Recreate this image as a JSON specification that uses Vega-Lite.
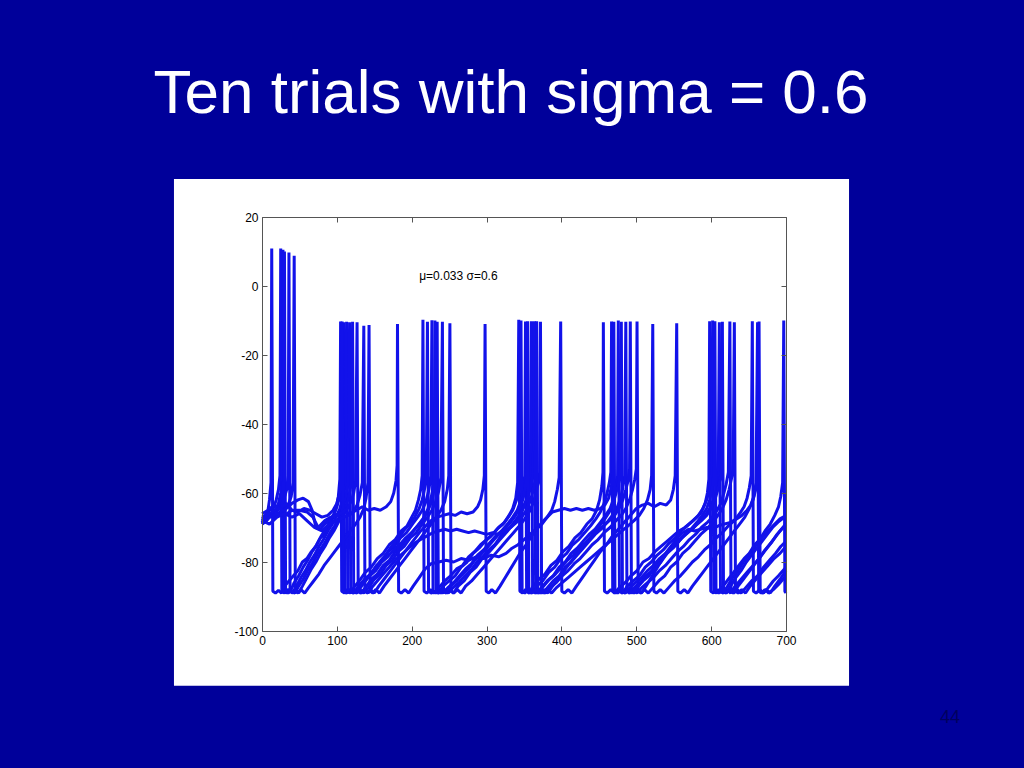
{
"$schema": "https://vega.github.io/schema/vega-lite/v6.json",
"width": 524,
"height": 414,
"autosize": {"type": "none"},
"padding": {"left": 262, "top": 217, "right": 238, "bottom": 137},
"background": "#00009A",
"config": {"view": {"stroke": null}, "font": "Liberation Sans"},
"title": {"text": "Ten trials with sigma = 0.6", "fontSize": 62, "font": "Liberation Sans", "fontWeight": "normal", "color": "#FFFFFF", "anchor": "middle", "offset": 53, "dx": -13},
"datasets": {
"traces": [
{"k":1,"t":0,"v":-68.5},{"k":1,"t":4,"v":-67},{"k":1,"t":8,"v":-65},{"k":1,"t":10,"v":-62},{"k":1,"t":12,"v":-57},{"k":1,"t":13,"v":10.9},
{"k":1,"t":14.5,"v":-88.5},{"k":1,"t":18,"v":-89},{"k":1,"t":22,"v":-88.2},{"k":1,"t":26,"v":-89},{"k":1,"t":30,"v":-87},{"k":1,"t":36,"v":-85.5},{"k":1,"t":42,"v":-84},{"k":1,"t":48,"v":-82.5},{"k":1,"t":54,"v":-80},{"k":1,"t":60,"v":-79},{"k":1,"t":66,"v":-77},{"k":1,"t":72,"v":-75.5},{"k":1,"t":78,"v":-73},{"k":1,"t":84,"v":-72},{"k":1,"t":90,"v":-69.5},{"k":1,"t":95,"v":-67},{"k":1,"t":99,"v":-64.5},{"k":1,"t":102,"v":-61},{"k":1,"t":104,"v":-56},{"k":1,"t":105,"v":-10.3},
{"k":1,"t":106.5,"v":-88.5},{"k":1,"t":110,"v":-89},{"k":1,"t":114,"v":-88},{"k":1,"t":118,"v":-89},{"k":1,"t":124,"v":-87},{"k":1,"t":130,"v":-85.5},{"k":1,"t":138,"v":-83},{"k":1,"t":146,"v":-81.5},{"k":1,"t":154,"v":-79},{"k":1,"t":162,"v":-77.5},{"k":1,"t":170,"v":-75},{"k":1,"t":178,"v":-73.5},{"k":1,"t":186,"v":-71},{"k":1,"t":194,"v":-69.5},{"k":1,"t":200,"v":-67},{"k":1,"t":205,"v":-65},{"k":1,"t":209,"v":-62},{"k":1,"t":212,"v":-59},{"k":1,"t":214,"v":-55},{"k":1,"t":215,"v":-9.8},
{"k":1,"t":216.5,"v":-88.5},{"k":1,"t":220,"v":-89},{"k":1,"t":225,"v":-88},{"k":1,"t":230,"v":-89},{"k":1,"t":236,"v":-87.5},{"k":1,"t":244,"v":-85.5},{"k":1,"t":252,"v":-84},{"k":1,"t":260,"v":-82},{"k":1,"t":268,"v":-81},{"k":1,"t":276,"v":-78.5},{"k":1,"t":284,"v":-77},{"k":1,"t":292,"v":-75},{"k":1,"t":300,"v":-73.5},{"k":1,"t":308,"v":-72},{"k":1,"t":316,"v":-70},{"k":1,"t":324,"v":-68.5},{"k":1,"t":330,"v":-66.5},{"k":1,"t":335,"v":-64.5},{"k":1,"t":339,"v":-61.5},{"k":1,"t":341.5,"v":-57},{"k":1,"t":343,"v":-9.8},
{"k":1,"t":344.5,"v":-88.5},{"k":1,"t":348,"v":-89},{"k":1,"t":352,"v":-88},{"k":1,"t":357,"v":-89},{"k":1,"t":362,"v":-87},{"k":1,"t":370,"v":-85},{"k":1,"t":378,"v":-83.5},{"k":1,"t":386,"v":-81},{"k":1,"t":394,"v":-79.5},{"k":1,"t":402,"v":-77},{"k":1,"t":410,"v":-75.5},{"k":1,"t":418,"v":-73},{"k":1,"t":426,"v":-71.5},{"k":1,"t":434,"v":-69},{"k":1,"t":441,"v":-67.5},{"k":1,"t":447,"v":-65},{"k":1,"t":451,"v":-62},{"k":1,"t":454,"v":-58},{"k":1,"t":455.5,"v":-54},{"k":1,"t":456,"v":-10.5},
{"k":1,"t":457.5,"v":-88.5},{"k":1,"t":461,"v":-89},{"k":1,"t":466,"v":-88},{"k":1,"t":471,"v":-89},{"k":1,"t":477,"v":-87.5},{"k":1,"t":485,"v":-86},{"k":1,"t":493,"v":-84},{"k":1,"t":501,"v":-82.5},{"k":1,"t":509,"v":-80},{"k":1,"t":517,"v":-79},{"k":1,"t":525,"v":-77},{"k":1,"t":533,"v":-75.5},{"k":1,"t":541,"v":-74},{"k":1,"t":549,"v":-72.5},{"k":1,"t":557,"v":-71},{"k":1,"t":565,"v":-70},{"k":1,"t":573,"v":-68.5},{"k":1,"t":581,"v":-67},{"k":1,"t":587,"v":-65.5},{"k":1,"t":592,"v":-63},{"k":1,"t":595,"v":-60},{"k":1,"t":597,"v":-56},{"k":1,"t":598,"v":-10.2},
{"k":1,"t":599.5,"v":-88.5},{"k":1,"t":603,"v":-89},{"k":1,"t":607,"v":-88},{"k":1,"t":611,"v":-89},{"k":1,"t":616,"v":-87},{"k":1,"t":623,"v":-85},{"k":1,"t":630,"v":-83},{"k":1,"t":637,"v":-81},{"k":1,"t":644,"v":-79},{"k":1,"t":651,"v":-77.5},{"k":1,"t":658,"v":-75},{"k":1,"t":665,"v":-73.5},{"k":1,"t":672,"v":-71},{"k":1,"t":679,"v":-69},{"k":1,"t":685,"v":-66.5},{"k":1,"t":690,"v":-64},{"k":1,"t":693,"v":-61},{"k":1,"t":695.5,"v":-57},{"k":1,"t":697,"v":-10},{"k":1,"t":698.5,"v":-88.5},{"k":1,"t":700,"v":-89},

{"k":2,"t":0,"v":-67},{"k":2,"t":5,"v":-66.5},{"k":2,"t":10,"v":-65},{"k":2,"t":15,"v":-64.5},{"k":2,"t":19,"v":-62},{"k":2,"t":22,"v":-59},{"k":2,"t":24,"v":-55},{"k":2,"t":25,"v":10.9},
{"k":2,"t":26.5,"v":-88.5},{"k":2,"t":30,"v":-89},{"k":2,"t":34,"v":-88},{"k":2,"t":38,"v":-88.5},{"k":2,"t":43,"v":-86},{"k":2,"t":49,"v":-84},{"k":2,"t":55,"v":-81.5},{"k":2,"t":61,"v":-79.5},{"k":2,"t":67,"v":-77},{"k":2,"t":73,"v":-75},{"k":2,"t":79,"v":-72.5},{"k":2,"t":85,"v":-70.5},{"k":2,"t":91,"v":-68},{"k":2,"t":96,"v":-66},{"k":2,"t":100,"v":-64},{"k":2,"t":104,"v":-61},{"k":2,"t":107,"v":-57},{"k":2,"t":109,"v":-10.5},
{"k":2,"t":110.5,"v":-88.5},{"k":2,"t":114,"v":-89},{"k":2,"t":118,"v":-88},{"k":2,"t":123,"v":-89},{"k":2,"t":129,"v":-87},{"k":2,"t":137,"v":-85},{"k":2,"t":145,"v":-83.5},{"k":2,"t":153,"v":-81},{"k":2,"t":161,"v":-79.5},{"k":2,"t":169,"v":-77},{"k":2,"t":177,"v":-75.5},{"k":2,"t":185,"v":-73},{"k":2,"t":193,"v":-71.5},{"k":2,"t":201,"v":-69},{"k":2,"t":208,"v":-67},{"k":2,"t":214,"v":-65},{"k":2,"t":219,"v":-62.5},{"k":2,"t":223,"v":-59},{"k":2,"t":225.5,"v":-55},{"k":2,"t":227,"v":-9.9},
{"k":2,"t":228.5,"v":-88.5},{"k":2,"t":232,"v":-89},{"k":2,"t":237,"v":-88},{"k":2,"t":242,"v":-89},{"k":2,"t":248,"v":-87.5},{"k":2,"t":256,"v":-86},{"k":2,"t":264,"v":-84},{"k":2,"t":272,"v":-82},{"k":2,"t":280,"v":-80.5},{"k":2,"t":288,"v":-78},{"k":2,"t":296,"v":-76.5},{"k":2,"t":304,"v":-74.5},{"k":2,"t":312,"v":-72.5},{"k":2,"t":320,"v":-71},{"k":2,"t":328,"v":-69},{"k":2,"t":335,"v":-67},{"k":2,"t":341,"v":-65},{"k":2,"t":346,"v":-62},{"k":2,"t":349,"v":-59},{"k":2,"t":351,"v":-55},{"k":2,"t":352,"v":-10.3},
{"k":2,"t":353.5,"v":-88.5},{"k":2,"t":357,"v":-89},{"k":2,"t":362,"v":-88},{"k":2,"t":367,"v":-89},{"k":2,"t":373,"v":-87.5},{"k":2,"t":381,"v":-85.5},{"k":2,"t":389,"v":-84},{"k":2,"t":397,"v":-81.5},{"k":2,"t":405,"v":-80},{"k":2,"t":413,"v":-77.5},{"k":2,"t":421,"v":-76},{"k":2,"t":429,"v":-74},{"k":2,"t":437,"v":-72},{"k":2,"t":445,"v":-70.5},{"k":2,"t":452,"v":-68.5},{"k":2,"t":459,"v":-66.5},{"k":2,"t":465,"v":-64.5},{"k":2,"t":470,"v":-61.5},{"k":2,"t":473,"v":-58},{"k":2,"t":475,"v":-55},{"k":2,"t":476,"v":-10},
{"k":2,"t":477.5,"v":-88.5},{"k":2,"t":481,"v":-89},{"k":2,"t":486,"v":-88},{"k":2,"t":491,"v":-89},{"k":2,"t":497,"v":-87.5},{"k":2,"t":505,"v":-86},{"k":2,"t":513,"v":-84},{"k":2,"t":521,"v":-82.5},{"k":2,"t":529,"v":-80},{"k":2,"t":537,"v":-78.5},{"k":2,"t":545,"v":-76.5},{"k":2,"t":553,"v":-75},{"k":2,"t":561,"v":-73},{"k":2,"t":569,"v":-71.5},{"k":2,"t":577,"v":-70},{"k":2,"t":585,"v":-68},{"k":2,"t":592,"v":-66.5},{"k":2,"t":598,"v":-64.5},{"k":2,"t":603,"v":-62},{"k":2,"t":607,"v":-59},{"k":2,"t":609.5,"v":-55},{"k":2,"t":611,"v":-10.5},
{"k":2,"t":612.5,"v":-88.5},{"k":2,"t":616,"v":-89},{"k":2,"t":621,"v":-88},{"k":2,"t":626,"v":-89},{"k":2,"t":632,"v":-87},{"k":2,"t":640,"v":-85},{"k":2,"t":648,"v":-83},{"k":2,"t":656,"v":-81},{"k":2,"t":664,"v":-79},{"k":2,"t":672,"v":-76.5},{"k":2,"t":680,"v":-74.5},{"k":2,"t":688,"v":-72},{"k":2,"t":694,"v":-70.5},{"k":2,"t":700,"v":-69},

{"k":3,"t":0,"v":-69},{"k":3,"t":6,"v":-68},{"k":3,"t":12,"v":-66},{"k":3,"t":18,"v":-65},{"k":3,"t":22,"v":-63},{"k":3,"t":25,"v":-60},{"k":3,"t":27,"v":-56},{"k":3,"t":28,"v":10.5},
{"k":3,"t":29.5,"v":-88.5},{"k":3,"t":33,"v":-89},{"k":3,"t":37,"v":-88},{"k":3,"t":41,"v":-89},{"k":3,"t":46,"v":-87},{"k":3,"t":52,"v":-84.5},{"k":3,"t":58,"v":-82.5},{"k":3,"t":64,"v":-80},{"k":3,"t":70,"v":-78},{"k":3,"t":76,"v":-75.5},{"k":3,"t":82,"v":-73.5},{"k":3,"t":88,"v":-71},{"k":3,"t":94,"v":-69},{"k":3,"t":99,"v":-67},{"k":3,"t":104,"v":-64.5},{"k":3,"t":108,"v":-61.5},{"k":3,"t":111,"v":-57.5},{"k":3,"t":113,"v":-10.4},
{"k":3,"t":114.5,"v":-88.5},{"k":3,"t":118,"v":-89},{"k":3,"t":122,"v":-88},{"k":3,"t":127,"v":-89},{"k":3,"t":133,"v":-87},{"k":3,"t":141,"v":-84.5},{"k":3,"t":149,"v":-82.5},{"k":3,"t":157,"v":-80},{"k":3,"t":165,"v":-78},{"k":3,"t":173,"v":-75.5},{"k":3,"t":181,"v":-73.5},{"k":3,"t":189,"v":-71},{"k":3,"t":197,"v":-69},{"k":3,"t":204,"v":-67},{"k":3,"t":210,"v":-64.5},{"k":3,"t":214,"v":-62},{"k":3,"t":217,"v":-59},{"k":3,"t":219.5,"v":-55},{"k":3,"t":221,"v":-10.4},
{"k":3,"t":222.5,"v":-88.5},{"k":3,"t":226,"v":-89},{"k":3,"t":231,"v":-88.5},{"k":3,"t":236,"v":-89},{"k":3,"t":242,"v":-87},{"k":3,"t":250,"v":-85.5},{"k":3,"t":258,"v":-84},{"k":3,"t":266,"v":-81.5},{"k":3,"t":274,"v":-80},{"k":3,"t":282,"v":-77.5},{"k":3,"t":290,"v":-76},{"k":3,"t":298,"v":-74},{"k":3,"t":306,"v":-72.5},{"k":3,"t":314,"v":-70.5},{"k":3,"t":322,"v":-69},{"k":3,"t":329,"v":-67},{"k":3,"t":335,"v":-65},{"k":3,"t":340,"v":-62},{"k":3,"t":343,"v":-59},{"k":3,"t":345,"v":-55},{"k":3,"t":346,"v":-10},
{"k":3,"t":347.5,"v":-88.5},{"k":3,"t":351,"v":-89},{"k":3,"t":356,"v":-88},{"k":3,"t":361,"v":-89},{"k":3,"t":367,"v":-87},{"k":3,"t":375,"v":-85.5},{"k":3,"t":383,"v":-83},{"k":3,"t":391,"v":-81.5},{"k":3,"t":399,"v":-79},{"k":3,"t":407,"v":-77.5},{"k":3,"t":415,"v":-75},{"k":3,"t":423,"v":-73.5},{"k":3,"t":431,"v":-71.5},{"k":3,"t":439,"v":-69.5},{"k":3,"t":446,"v":-67.5},{"k":3,"t":452,"v":-65.5},{"k":3,"t":457,"v":-63},{"k":3,"t":461,"v":-60},{"k":3,"t":464,"v":-57},{"k":3,"t":466,"v":-54},{"k":3,"t":467,"v":-10.3},
{"k":3,"t":468.5,"v":-88.5},{"k":3,"t":472,"v":-89},{"k":3,"t":477,"v":-88},{"k":3,"t":482,"v":-89},{"k":3,"t":488,"v":-87},{"k":3,"t":496,"v":-85.5},{"k":3,"t":504,"v":-84},{"k":3,"t":512,"v":-81.5},{"k":3,"t":520,"v":-80},{"k":3,"t":528,"v":-78},{"k":3,"t":536,"v":-76.5},{"k":3,"t":544,"v":-74.5},{"k":3,"t":552,"v":-73},{"k":3,"t":560,"v":-71},{"k":3,"t":568,"v":-69.5},{"k":3,"t":576,"v":-68},{"k":3,"t":583,"v":-66.5},{"k":3,"t":589,"v":-64.5},{"k":3,"t":594,"v":-62},{"k":3,"t":598,"v":-59},{"k":3,"t":600.5,"v":-55},{"k":3,"t":602,"v":-10},
{"k":3,"t":603.5,"v":-88.5},{"k":3,"t":607,"v":-89},{"k":3,"t":611,"v":-88},{"k":3,"t":616,"v":-89},{"k":3,"t":622,"v":-87},{"k":3,"t":629,"v":-84.5},{"k":3,"t":636,"v":-82.5},{"k":3,"t":643,"v":-80},{"k":3,"t":650,"v":-78},{"k":3,"t":657,"v":-76},{"k":3,"t":664,"v":-74},{"k":3,"t":671,"v":-72},{"k":3,"t":678,"v":-70.5},{"k":3,"t":685,"v":-69},{"k":3,"t":692,"v":-67.5},{"k":3,"t":700,"v":-66.5},

{"k":4,"t":0,"v":-68},{"k":4,"t":6,"v":-67.5},{"k":4,"t":12,"v":-66},{"k":4,"t":18,"v":-66.5},{"k":4,"t":23,"v":-64},{"k":4,"t":27,"v":-61},{"k":4,"t":29,"v":-56},{"k":4,"t":30,"v":10},
{"k":4,"t":31.5,"v":-88.5},{"k":4,"t":35,"v":-89},{"k":4,"t":39,"v":-88.5},{"k":4,"t":44,"v":-89},{"k":4,"t":49,"v":-87},{"k":4,"t":55,"v":-85},{"k":4,"t":61,"v":-82.5},{"k":4,"t":67,"v":-80.5},{"k":4,"t":73,"v":-78},{"k":4,"t":79,"v":-76},{"k":4,"t":85,"v":-74},{"k":4,"t":91,"v":-71.5},{"k":4,"t":97,"v":-69.5},{"k":4,"t":103,"v":-67},{"k":4,"t":108,"v":-64.5},{"k":4,"t":112,"v":-61},{"k":4,"t":115,"v":-57},{"k":4,"t":117,"v":-10.5},
{"k":4,"t":118.5,"v":-88.5},{"k":4,"t":122,"v":-89},{"k":4,"t":127,"v":-88},{"k":4,"t":132,"v":-89},{"k":4,"t":138,"v":-87.5},{"k":4,"t":146,"v":-85},{"k":4,"t":154,"v":-83.5},{"k":4,"t":162,"v":-81},{"k":4,"t":170,"v":-79.5},{"k":4,"t":178,"v":-77},{"k":4,"t":186,"v":-75.5},{"k":4,"t":194,"v":-73},{"k":4,"t":202,"v":-71},{"k":4,"t":210,"v":-69},{"k":4,"t":217,"v":-67},{"k":4,"t":223,"v":-64.5},{"k":4,"t":227,"v":-62},{"k":4,"t":230,"v":-59},{"k":4,"t":232.5,"v":-55},{"k":4,"t":234,"v":-10.4},
{"k":4,"t":235.5,"v":-88.5},{"k":4,"t":239,"v":-89},{"k":4,"t":244,"v":-88},{"k":4,"t":249,"v":-89},{"k":4,"t":255,"v":-87.5},{"k":4,"t":263,"v":-86},{"k":4,"t":271,"v":-84},{"k":4,"t":279,"v":-82.5},{"k":4,"t":287,"v":-80},{"k":4,"t":295,"v":-78.5},{"k":4,"t":303,"v":-76.5},{"k":4,"t":311,"v":-75},{"k":4,"t":319,"v":-72.5},{"k":4,"t":327,"v":-71},{"k":4,"t":335,"v":-69},{"k":4,"t":342,"v":-67},{"k":4,"t":348,"v":-64.5},{"k":4,"t":353,"v":-62},{"k":4,"t":356,"v":-59},{"k":4,"t":358.5,"v":-55},{"k":4,"t":360,"v":-10.2},
{"k":4,"t":361.5,"v":-88.5},{"k":4,"t":365,"v":-89},{"k":4,"t":370,"v":-88},{"k":4,"t":375,"v":-89},{"k":4,"t":381,"v":-87.5},{"k":4,"t":389,"v":-85.5},{"k":4,"t":397,"v":-84},{"k":4,"t":405,"v":-81.5},{"k":4,"t":413,"v":-80},{"k":4,"t":421,"v":-78},{"k":4,"t":429,"v":-76},{"k":4,"t":437,"v":-74},{"k":4,"t":445,"v":-72},{"k":4,"t":453,"v":-70.5},{"k":4,"t":461,"v":-68.5},{"k":4,"t":468,"v":-66.5},{"k":4,"t":474,"v":-64.5},{"k":4,"t":479,"v":-61.5},{"k":4,"t":482,"v":-58.5},{"k":4,"t":484.5,"v":-55},{"k":4,"t":486,"v":-10.4},
{"k":4,"t":487.5,"v":-88.5},{"k":4,"t":491,"v":-89},{"k":4,"t":496,"v":-88},{"k":4,"t":501,"v":-89},{"k":4,"t":507,"v":-87.5},{"k":4,"t":515,"v":-86},{"k":4,"t":523,"v":-84.5},{"k":4,"t":531,"v":-82.5},{"k":4,"t":539,"v":-81},{"k":4,"t":547,"v":-79},{"k":4,"t":555,"v":-77},{"k":4,"t":563,"v":-75.5},{"k":4,"t":571,"v":-73.5},{"k":4,"t":579,"v":-72},{"k":4,"t":587,"v":-70},{"k":4,"t":595,"v":-68.5},{"k":4,"t":602,"v":-67},{"k":4,"t":608,"v":-65},{"k":4,"t":613,"v":-63},{"k":4,"t":617,"v":-60},{"k":4,"t":620,"v":-57.5},{"k":4,"t":623,"v":-54},{"k":4,"t":625,"v":-10.3},
{"k":4,"t":626.5,"v":-88.5},{"k":4,"t":630,"v":-89},{"k":4,"t":635,"v":-88},{"k":4,"t":640,"v":-89},{"k":4,"t":646,"v":-87.5},{"k":4,"t":654,"v":-85.5},{"k":4,"t":662,"v":-84},{"k":4,"t":670,"v":-81.5},{"k":4,"t":678,"v":-79.5},{"k":4,"t":686,"v":-77.5},{"k":4,"t":693,"v":-75.5},{"k":4,"t":700,"v":-74},

{"k":5,"t":0,"v":-67.5},{"k":5,"t":6,"v":-66},{"k":5,"t":12,"v":-67},{"k":5,"t":18,"v":-65},{"k":5,"t":24,"v":-64.5},{"k":5,"t":29,"v":-62},{"k":5,"t":33,"v":-59},{"k":5,"t":35,"v":-55},{"k":5,"t":36,"v":9.7},
{"k":5,"t":37.5,"v":-88.5},{"k":5,"t":41,"v":-89},{"k":5,"t":45,"v":-88},{"k":5,"t":49,"v":-89},{"k":5,"t":54,"v":-87},{"k":5,"t":60,"v":-84.5},{"k":5,"t":66,"v":-82},{"k":5,"t":72,"v":-80},{"k":5,"t":78,"v":-77.5},{"k":5,"t":84,"v":-75.5},{"k":5,"t":90,"v":-73},{"k":5,"t":96,"v":-71},{"k":5,"t":102,"v":-68.5},{"k":5,"t":107,"v":-66.5},{"k":5,"t":112,"v":-64},{"k":5,"t":116,"v":-61},{"k":5,"t":119,"v":-57},{"k":5,"t":121,"v":-10.4},
{"k":5,"t":122.5,"v":-88.5},{"k":5,"t":126,"v":-89},{"k":5,"t":131,"v":-88},{"k":5,"t":136,"v":-89},{"k":5,"t":142,"v":-87.5},{"k":5,"t":150,"v":-85},{"k":5,"t":158,"v":-83.5},{"k":5,"t":166,"v":-81},{"k":5,"t":174,"v":-79.5},{"k":5,"t":182,"v":-77},{"k":5,"t":190,"v":-75.5},{"k":5,"t":198,"v":-73},{"k":5,"t":206,"v":-71.5},{"k":5,"t":214,"v":-69},{"k":5,"t":221,"v":-67},{"k":5,"t":227,"v":-65},{"k":5,"t":232,"v":-62.5},{"k":5,"t":236,"v":-59.5},{"k":5,"t":239,"v":-55.5},{"k":5,"t":241,"v":-10.4},
{"k":5,"t":242.5,"v":-88.5},{"k":5,"t":246,"v":-89},{"k":5,"t":251,"v":-88},{"k":5,"t":256,"v":-89},{"k":5,"t":262,"v":-87},{"k":5,"t":270,"v":-85.5},{"k":5,"t":278,"v":-83},{"k":5,"t":286,"v":-81.5},{"k":5,"t":294,"v":-79},{"k":5,"t":302,"v":-77.5},{"k":5,"t":310,"v":-75.5},{"k":5,"t":318,"v":-73.5},{"k":5,"t":326,"v":-71.5},{"k":5,"t":334,"v":-69.5},{"k":5,"t":341,"v":-67.5},{"k":5,"t":347,"v":-65.5},{"k":5,"t":352,"v":-63},{"k":5,"t":357,"v":-60},{"k":5,"t":360,"v":-57},{"k":5,"t":362.5,"v":-54},{"k":5,"t":364,"v":-10.2},
{"k":5,"t":365.5,"v":-88.5},{"k":5,"t":369,"v":-89},{"k":5,"t":374,"v":-88},{"k":5,"t":379,"v":-89},{"k":5,"t":385,"v":-87.5},{"k":5,"t":393,"v":-86},{"k":5,"t":401,"v":-84},{"k":5,"t":409,"v":-82.5},{"k":5,"t":417,"v":-80.5},{"k":5,"t":425,"v":-79},{"k":5,"t":433,"v":-77},{"k":5,"t":441,"v":-75},{"k":5,"t":449,"v":-73.5},{"k":5,"t":457,"v":-71.5},{"k":5,"t":465,"v":-70},{"k":5,"t":473,"v":-68},{"k":5,"t":480,"v":-66.5},{"k":5,"t":486,"v":-64.5},{"k":5,"t":491,"v":-62},{"k":5,"t":495,"v":-59},{"k":5,"t":498,"v":-56},{"k":5,"t":500,"v":-53},{"k":5,"t":501,"v":-10.3},
{"k":5,"t":502.5,"v":-88.5},{"k":5,"t":506,"v":-89},{"k":5,"t":511,"v":-88},{"k":5,"t":516,"v":-89},{"k":5,"t":522,"v":-87.5},{"k":5,"t":530,"v":-85.5},{"k":5,"t":538,"v":-84},{"k":5,"t":546,"v":-81.5},{"k":5,"t":554,"v":-80},{"k":5,"t":562,"v":-77.5},{"k":5,"t":570,"v":-76},{"k":5,"t":578,"v":-74},{"k":5,"t":586,"v":-72},{"k":5,"t":594,"v":-70.5},{"k":5,"t":602,"v":-68.5},{"k":5,"t":609,"v":-66.5},{"k":5,"t":615,"v":-64.5},{"k":5,"t":620,"v":-62},{"k":5,"t":624,"v":-59},{"k":5,"t":627,"v":-56},{"k":5,"t":629.5,"v":-53},{"k":5,"t":631,"v":-10.5},
{"k":5,"t":632.5,"v":-88.5},{"k":5,"t":636,"v":-89},{"k":5,"t":641,"v":-88},{"k":5,"t":646,"v":-89},{"k":5,"t":652,"v":-87},{"k":5,"t":660,"v":-85},{"k":5,"t":668,"v":-83},{"k":5,"t":676,"v":-81},{"k":5,"t":684,"v":-79},{"k":5,"t":692,"v":-77.5},{"k":5,"t":700,"v":-75.5},

{"k":6,"t":0,"v":-69},{"k":6,"t":6,"v":-68},{"k":6,"t":12,"v":-66.5},{"k":6,"t":18,"v":-67},{"k":6,"t":24,"v":-65.5},{"k":6,"t":30,"v":-65},{"k":6,"t":35,"v":-63.5},{"k":6,"t":39,"v":-61},{"k":6,"t":41.5,"v":-57},{"k":6,"t":43,"v":8.8},
{"k":6,"t":44.5,"v":-88.5},{"k":6,"t":48,"v":-89},{"k":6,"t":52,"v":-88},{"k":6,"t":57,"v":-89},{"k":6,"t":62,"v":-87.5},{"k":6,"t":69,"v":-85.5},{"k":6,"t":76,"v":-83.5},{"k":6,"t":83,"v":-81},{"k":6,"t":90,"v":-79},{"k":6,"t":97,"v":-77},{"k":6,"t":104,"v":-75},{"k":6,"t":111,"v":-73},{"k":6,"t":118,"v":-71},{"k":6,"t":125,"v":-69},{"k":6,"t":131,"v":-67},{"k":6,"t":136,"v":-64.5},{"k":6,"t":139,"v":-61.5},{"k":6,"t":141.5,"v":-57},{"k":6,"t":143,"v":-11.3},
{"k":6,"t":144.5,"v":-88.5},{"k":6,"t":148,"v":-89},{"k":6,"t":152,"v":-88},{"k":6,"t":157,"v":-89},{"k":6,"t":163,"v":-87},{"k":6,"t":170,"v":-85},{"k":6,"t":177,"v":-83},{"k":6,"t":184,"v":-81},{"k":6,"t":191,"v":-79},{"k":6,"t":198,"v":-77},{"k":6,"t":205,"v":-75},{"k":6,"t":212,"v":-73},{"k":6,"t":219,"v":-71},{"k":6,"t":226,"v":-69},{"k":6,"t":233,"v":-67},{"k":6,"t":239,"v":-65},{"k":6,"t":244,"v":-62.5},{"k":6,"t":247.5,"v":-59},{"k":6,"t":249.5,"v":-55},{"k":6,"t":251,"v":-10.8},
{"k":6,"t":252.5,"v":-88.5},{"k":6,"t":256,"v":-89},{"k":6,"t":261,"v":-88},{"k":6,"t":266,"v":-89},{"k":6,"t":272,"v":-87},{"k":6,"t":280,"v":-85.5},{"k":6,"t":288,"v":-83.5},{"k":6,"t":296,"v":-81.5},{"k":6,"t":304,"v":-79.5},{"k":6,"t":312,"v":-77.5},{"k":6,"t":320,"v":-75.5},{"k":6,"t":328,"v":-73.5},{"k":6,"t":336,"v":-71.5},{"k":6,"t":344,"v":-69.5},{"k":6,"t":351,"v":-67.5},{"k":6,"t":357,"v":-65.5},{"k":6,"t":362,"v":-63},{"k":6,"t":366,"v":-60},{"k":6,"t":369,"v":-57},{"k":6,"t":371,"v":-54},{"k":6,"t":372,"v":-10.4},
{"k":6,"t":373.5,"v":-88.5},{"k":6,"t":377,"v":-89},{"k":6,"t":382,"v":-88},{"k":6,"t":387,"v":-89},{"k":6,"t":393,"v":-87.5},{"k":6,"t":401,"v":-86},{"k":6,"t":409,"v":-84.5},{"k":6,"t":417,"v":-83},{"k":6,"t":425,"v":-81.5},{"k":6,"t":433,"v":-80},{"k":6,"t":441,"v":-78.5},{"k":6,"t":449,"v":-77},{"k":6,"t":457,"v":-75.5},{"k":6,"t":465,"v":-74},{"k":6,"t":473,"v":-72.5},{"k":6,"t":481,"v":-71},{"k":6,"t":489,"v":-69.5},{"k":6,"t":497,"v":-68},{"k":6,"t":504,"v":-66.5},{"k":6,"t":510,"v":-64.5},{"k":6,"t":515,"v":-62},{"k":6,"t":518.5,"v":-59},{"k":6,"t":520.5,"v":-55},{"k":6,"t":522,"v":-11},
{"k":6,"t":523.5,"v":-88.5},{"k":6,"t":527,"v":-89},{"k":6,"t":532,"v":-88},{"k":6,"t":537,"v":-89},{"k":6,"t":543,"v":-87.5},{"k":6,"t":551,"v":-85.5},{"k":6,"t":559,"v":-84},{"k":6,"t":567,"v":-82},{"k":6,"t":575,"v":-80},{"k":6,"t":583,"v":-78.5},{"k":6,"t":591,"v":-76.5},{"k":6,"t":599,"v":-75},{"k":6,"t":607,"v":-73},{"k":6,"t":615,"v":-71.5},{"k":6,"t":623,"v":-69.5},{"k":6,"t":631,"v":-68},{"k":6,"t":638,"v":-66},{"k":6,"t":644,"v":-64},{"k":6,"t":648,"v":-61.5},{"k":6,"t":651,"v":-58.5},{"k":6,"t":653.5,"v":-55},{"k":6,"t":655,"v":-10.2},
{"k":6,"t":656.5,"v":-88.5},{"k":6,"t":660,"v":-89},{"k":6,"t":665,"v":-88},{"k":6,"t":670,"v":-89},{"k":6,"t":676,"v":-87.5},{"k":6,"t":683,"v":-85.5},{"k":6,"t":690,"v":-84},{"k":6,"t":700,"v":-81.5},

{"k":7,"t":0,"v":-66},{"k":7,"t":8,"v":-65},{"k":7,"t":16,"v":-63.5},{"k":7,"t":24,"v":-64.5},{"k":7,"t":32,"v":-63},{"k":7,"t":40,"v":-65},{"k":7,"t":48,"v":-65.5},{"k":7,"t":56,"v":-64.5},{"k":7,"t":64,"v":-65},{"k":7,"t":72,"v":-66},{"k":7,"t":80,"v":-67},{"k":7,"t":88,"v":-66.5},{"k":7,"t":95,"v":-65},{"k":7,"t":100,"v":-63},{"k":7,"t":103.5,"v":-60},{"k":7,"t":105.5,"v":-56},{"k":7,"t":107,"v":-10.3},
{"k":7,"t":108.5,"v":-88.5},{"k":7,"t":112,"v":-89},{"k":7,"t":117,"v":-88},{"k":7,"t":122,"v":-89},{"k":7,"t":128,"v":-87.5},{"k":7,"t":136,"v":-86},{"k":7,"t":144,"v":-84},{"k":7,"t":152,"v":-82.5},{"k":7,"t":160,"v":-80},{"k":7,"t":168,"v":-78.5},{"k":7,"t":176,"v":-76.5},{"k":7,"t":184,"v":-75},{"k":7,"t":192,"v":-73},{"k":7,"t":200,"v":-71.5},{"k":7,"t":208,"v":-69.5},{"k":7,"t":215,"v":-67.5},{"k":7,"t":221,"v":-65},{"k":7,"t":225,"v":-62.5},{"k":7,"t":228,"v":-59},{"k":7,"t":230,"v":-55},{"k":7,"t":231,"v":-10},
{"k":7,"t":232.5,"v":-88.5},{"k":7,"t":236,"v":-89},{"k":7,"t":241,"v":-88},{"k":7,"t":246,"v":-89},{"k":7,"t":252,"v":-87},{"k":7,"t":260,"v":-85.5},{"k":7,"t":268,"v":-83.5},{"k":7,"t":276,"v":-82},{"k":7,"t":284,"v":-79.5},{"k":7,"t":292,"v":-78},{"k":7,"t":300,"v":-76},{"k":7,"t":308,"v":-74},{"k":7,"t":316,"v":-72},{"k":7,"t":324,"v":-70.5},{"k":7,"t":332,"v":-68.5},{"k":7,"t":339,"v":-66.5},{"k":7,"t":345,"v":-64},{"k":7,"t":349,"v":-61.5},{"k":7,"t":352,"v":-58},{"k":7,"t":354,"v":-55},{"k":7,"t":355,"v":-10.2},
{"k":7,"t":356.5,"v":-88.5},{"k":7,"t":360,"v":-89},{"k":7,"t":365,"v":-88},{"k":7,"t":370,"v":-89},{"k":7,"t":376,"v":-87},{"k":7,"t":384,"v":-85},{"k":7,"t":392,"v":-83.5},{"k":7,"t":400,"v":-81.5},{"k":7,"t":408,"v":-79.5},{"k":7,"t":416,"v":-78},{"k":7,"t":424,"v":-76},{"k":7,"t":432,"v":-74.5},{"k":7,"t":440,"v":-72.5},{"k":7,"t":448,"v":-71},{"k":7,"t":456,"v":-69.5},{"k":7,"t":464,"v":-68},{"k":7,"t":471,"v":-66.5},{"k":7,"t":477,"v":-64.5},{"k":7,"t":482,"v":-62},{"k":7,"t":486,"v":-59},{"k":7,"t":489,"v":-56.5},{"k":7,"t":491,"v":-53},{"k":7,"t":492,"v":-10.3},
{"k":7,"t":493.5,"v":-88.5},{"k":7,"t":497,"v":-89},{"k":7,"t":502,"v":-88},{"k":7,"t":507,"v":-89},{"k":7,"t":513,"v":-87},{"k":7,"t":520,"v":-84.5},{"k":7,"t":527,"v":-82},{"k":7,"t":534,"v":-79.5},{"k":7,"t":541,"v":-77},{"k":7,"t":548,"v":-75},{"k":7,"t":555,"v":-73},{"k":7,"t":562,"v":-71.5},{"k":7,"t":570,"v":-70.5},{"k":7,"t":578,"v":-71},{"k":7,"t":586,"v":-70.5},{"k":7,"t":594,"v":-70},{"k":7,"t":602,"v":-70.5},{"k":7,"t":610,"v":-69.5},{"k":7,"t":618,"v":-69},{"k":7,"t":626,"v":-68.5},{"k":7,"t":634,"v":-67.5},{"k":7,"t":641,"v":-66.5},{"k":7,"t":648,"v":-65},{"k":7,"t":653,"v":-63.5},{"k":7,"t":657,"v":-61},{"k":7,"t":660,"v":-57},{"k":7,"t":662,"v":-10.5},
{"k":7,"t":663.5,"v":-88.5},{"k":7,"t":667,"v":-89},{"k":7,"t":672,"v":-88},{"k":7,"t":677,"v":-89},{"k":7,"t":683,"v":-88},{"k":7,"t":690,"v":-86.5},{"k":7,"t":700,"v":-84},

{"k":8,"t":0,"v":-68},{"k":8,"t":10,"v":-66},{"k":8,"t":20,"v":-64.5},{"k":8,"t":30,"v":-65},{"k":8,"t":40,"v":-63},{"k":8,"t":48,"v":-62},{"k":8,"t":55,"v":-61.5},{"k":8,"t":62,"v":-62.5},{"k":8,"t":67,"v":-65},{"k":8,"t":72,"v":-70},{"k":8,"t":78,"v":-70.5},{"k":8,"t":86,"v":-68.5},{"k":8,"t":94,"v":-67},{"k":8,"t":102,"v":-66},{"k":8,"t":110,"v":-65.5},{"k":8,"t":118,"v":-66},{"k":8,"t":126,"v":-65},{"k":8,"t":134,"v":-64},{"k":8,"t":142,"v":-65},{"k":8,"t":150,"v":-64.5},{"k":8,"t":158,"v":-65},{"k":8,"t":166,"v":-64},{"k":8,"t":172,"v":-62.5},{"k":8,"t":176,"v":-60},{"k":8,"t":179,"v":-56.5},{"k":8,"t":180.5,"v":-52},{"k":8,"t":181,"v":-11},
{"k":8,"t":182.5,"v":-88.5},{"k":8,"t":186,"v":-89},{"k":8,"t":191,"v":-88},{"k":8,"t":196,"v":-89},{"k":8,"t":202,"v":-87},{"k":8,"t":210,"v":-84.5},{"k":8,"t":218,"v":-82},{"k":8,"t":226,"v":-80.5},{"k":8,"t":236,"v":-80},{"k":8,"t":246,"v":-79.5},{"k":8,"t":256,"v":-80},{"k":8,"t":266,"v":-79},{"k":8,"t":276,"v":-79.5},{"k":8,"t":286,"v":-78.5},{"k":8,"t":296,"v":-79},{"k":8,"t":306,"v":-78},{"k":8,"t":316,"v":-78.5},{"k":8,"t":326,"v":-77.5},{"k":8,"t":334,"v":-76},{"k":8,"t":342,"v":-75},{"k":8,"t":350,"v":-73.5},{"k":8,"t":358,"v":-72},{"k":8,"t":366,"v":-70.5},{"k":8,"t":374,"v":-69},{"k":8,"t":381,"v":-67},{"k":8,"t":387,"v":-65},{"k":8,"t":391,"v":-62.5},{"k":8,"t":394.5,"v":-59},{"k":8,"t":397,"v":-55.5},{"k":8,"t":399,"v":-10.3},
{"k":8,"t":400.5,"v":-88.5},{"k":8,"t":404,"v":-89},{"k":8,"t":409,"v":-88},{"k":8,"t":414,"v":-89},{"k":8,"t":420,"v":-87},{"k":8,"t":428,"v":-84.5},{"k":8,"t":436,"v":-82},{"k":8,"t":444,"v":-79.5},{"k":8,"t":452,"v":-77},{"k":8,"t":460,"v":-75},{"k":8,"t":468,"v":-72.5},{"k":8,"t":476,"v":-70.5},{"k":8,"t":484,"v":-68.5},{"k":8,"t":492,"v":-66.5},{"k":8,"t":500,"v":-64.5},{"k":8,"t":508,"v":-63.5},{"k":8,"t":516,"v":-63},{"k":8,"t":524,"v":-64},{"k":8,"t":532,"v":-63},{"k":8,"t":540,"v":-63.5},{"k":8,"t":546,"v":-62},{"k":8,"t":549.5,"v":-59},{"k":8,"t":552,"v":-55},{"k":8,"t":554,"v":-10.8},
{"k":8,"t":555.5,"v":-88.5},{"k":8,"t":559,"v":-89},{"k":8,"t":564,"v":-88},{"k":8,"t":569,"v":-89},{"k":8,"t":575,"v":-87},{"k":8,"t":582,"v":-85},{"k":8,"t":589,"v":-83},{"k":8,"t":596,"v":-81},{"k":8,"t":603,"v":-79},{"k":8,"t":610,"v":-77},{"k":8,"t":617,"v":-75},{"k":8,"t":624,"v":-73},{"k":8,"t":631,"v":-71},{"k":8,"t":638,"v":-69},{"k":8,"t":645,"v":-67},{"k":8,"t":651,"v":-64.5},{"k":8,"t":656,"v":-62},{"k":8,"t":659.5,"v":-59},{"k":8,"t":662,"v":-55.5},{"k":8,"t":664,"v":-10.3},
{"k":8,"t":665.5,"v":-88.5},{"k":8,"t":669,"v":-89},{"k":8,"t":674,"v":-88},{"k":8,"t":679,"v":-89},{"k":8,"t":685,"v":-87},{"k":8,"t":692,"v":-85},{"k":8,"t":700,"v":-82.5},

{"k":9,"t":0,"v":-69},{"k":9,"t":10,"v":-67},{"k":9,"t":20,"v":-66},{"k":9,"t":30,"v":-66.5},{"k":9,"t":40,"v":-65},{"k":9,"t":50,"v":-65},{"k":9,"t":60,"v":-65.5},{"k":9,"t":68,"v":-67},{"k":9,"t":75,"v":-70},{"k":9,"t":84,"v":-68},{"k":9,"t":92,"v":-67},{"k":9,"t":100,"v":-66.5},{"k":9,"t":108,"v":-65.5},{"k":9,"t":114,"v":-64.5},{"k":9,"t":119,"v":-62.5},{"k":9,"t":122.5,"v":-60},{"k":9,"t":125,"v":-56.5},{"k":9,"t":127,"v":-10.5},
{"k":9,"t":128.5,"v":-88.5},{"k":9,"t":132,"v":-89},{"k":9,"t":137,"v":-88},{"k":9,"t":142,"v":-89},{"k":9,"t":148,"v":-87},{"k":9,"t":156,"v":-85},{"k":9,"t":164,"v":-83},{"k":9,"t":172,"v":-81},{"k":9,"t":180,"v":-79},{"k":9,"t":188,"v":-77.5},{"k":9,"t":196,"v":-76},{"k":9,"t":204,"v":-74.5},{"k":9,"t":212,"v":-73.5},{"k":9,"t":220,"v":-72.5},{"k":9,"t":228,"v":-71.5},{"k":9,"t":236,"v":-71},{"k":9,"t":244,"v":-70.5},{"k":9,"t":252,"v":-71},{"k":9,"t":260,"v":-70.5},{"k":9,"t":268,"v":-71},{"k":9,"t":276,"v":-71.5},{"k":9,"t":284,"v":-71},{"k":9,"t":292,"v":-71.5},{"k":9,"t":300,"v":-72},{"k":9,"t":308,"v":-71.5},{"k":9,"t":316,"v":-72},{"k":9,"t":324,"v":-71},{"k":9,"t":332,"v":-70},{"k":9,"t":340,"v":-68.5},{"k":9,"t":347,"v":-67},{"k":9,"t":353,"v":-65},{"k":9,"t":358,"v":-62.5},{"k":9,"t":362,"v":-59.5},{"k":9,"t":365,"v":-56},{"k":9,"t":367,"v":-10.2},
{"k":9,"t":368.5,"v":-88.5},{"k":9,"t":372,"v":-89},{"k":9,"t":377,"v":-88},{"k":9,"t":382,"v":-89},{"k":9,"t":388,"v":-87},{"k":9,"t":395,"v":-85},{"k":9,"t":402,"v":-83},{"k":9,"t":409,"v":-81},{"k":9,"t":416,"v":-79},{"k":9,"t":423,"v":-77},{"k":9,"t":430,"v":-75},{"k":9,"t":437,"v":-73.5},{"k":9,"t":444,"v":-71.5},{"k":9,"t":451,"v":-69.5},{"k":9,"t":458,"v":-67.5},{"k":9,"t":464,"v":-65.5},{"k":9,"t":469,"v":-63},{"k":9,"t":473,"v":-60},{"k":9,"t":476.5,"v":-57},{"k":9,"t":478.5,"v":-53.5},{"k":9,"t":480,"v":-10.4},
{"k":9,"t":481.5,"v":-88.5},{"k":9,"t":485,"v":-89},{"k":9,"t":490,"v":-88},{"k":9,"t":495,"v":-89},{"k":9,"t":501,"v":-87.5},{"k":9,"t":509,"v":-85.5},{"k":9,"t":517,"v":-84},{"k":9,"t":525,"v":-81.5},{"k":9,"t":533,"v":-80},{"k":9,"t":541,"v":-77.5},{"k":9,"t":549,"v":-76},{"k":9,"t":557,"v":-74},{"k":9,"t":565,"v":-72},{"k":9,"t":573,"v":-70.5},{"k":9,"t":581,"v":-68.5},{"k":9,"t":588,"v":-66.5},{"k":9,"t":594,"v":-64.5},{"k":9,"t":598,"v":-62},{"k":9,"t":601.5,"v":-58.5},{"k":9,"t":603.5,"v":-55},{"k":9,"t":605,"v":-10.2},
{"k":9,"t":606.5,"v":-88.5},{"k":9,"t":610,"v":-89},{"k":9,"t":615,"v":-88},{"k":9,"t":620,"v":-89},{"k":9,"t":626,"v":-87},{"k":9,"t":633,"v":-84.5},{"k":9,"t":640,"v":-82.5},{"k":9,"t":647,"v":-80},{"k":9,"t":654,"v":-78},{"k":9,"t":661,"v":-76},{"k":9,"t":668,"v":-74},{"k":9,"t":675,"v":-72},{"k":9,"t":682,"v":-70},{"k":9,"t":689,"v":-68.5},{"k":9,"t":695,"v":-67.5},{"k":9,"t":700,"v":-66.5},

{"k":10,"t":0,"v":-68},{"k":10,"t":10,"v":-69},{"k":10,"t":20,"v":-67},{"k":10,"t":30,"v":-66},{"k":10,"t":40,"v":-67},{"k":10,"t":50,"v":-66},{"k":10,"t":60,"v":-68},{"k":10,"t":70,"v":-70},{"k":10,"t":80,"v":-71},{"k":10,"t":90,"v":-69},{"k":10,"t":100,"v":-68},{"k":10,"t":110,"v":-67},{"k":10,"t":120,"v":-66},{"k":10,"t":127,"v":-63.5},{"k":10,"t":131,"v":-60.5},{"k":10,"t":134,"v":-57},{"k":10,"t":136,"v":-11.5},
{"k":10,"t":137.5,"v":-88.5},{"k":10,"t":141,"v":-89},{"k":10,"t":145,"v":-88},{"k":10,"t":150,"v":-89},{"k":10,"t":156,"v":-87},{"k":10,"t":163,"v":-85},{"k":10,"t":170,"v":-83},{"k":10,"t":177,"v":-81},{"k":10,"t":184,"v":-79},{"k":10,"t":191,"v":-77},{"k":10,"t":198,"v":-75},{"k":10,"t":205,"v":-73},{"k":10,"t":212,"v":-71},{"k":10,"t":219,"v":-69.5},{"k":10,"t":226,"v":-68},{"k":10,"t":234,"v":-67},{"k":10,"t":242,"v":-66.5},{"k":10,"t":250,"v":-66},{"k":10,"t":258,"v":-66.5},{"k":10,"t":266,"v":-65.5},{"k":10,"t":274,"v":-66},{"k":10,"t":282,"v":-65.5},{"k":10,"t":288,"v":-64},{"k":10,"t":292,"v":-62},{"k":10,"t":295,"v":-59},{"k":10,"t":297,"v":-55},{"k":10,"t":298,"v":-11},
{"k":10,"t":299.5,"v":-88.5},{"k":10,"t":303,"v":-89},{"k":10,"t":307,"v":-88},{"k":10,"t":312,"v":-89},{"k":10,"t":318,"v":-87},{"k":10,"t":325,"v":-84.5},{"k":10,"t":332,"v":-82},{"k":10,"t":339,"v":-79.5},{"k":10,"t":346,"v":-77},{"k":10,"t":353,"v":-75},{"k":10,"t":360,"v":-72.5},{"k":10,"t":367,"v":-70.5},{"k":10,"t":374,"v":-68.5},{"k":10,"t":381,"v":-67},{"k":10,"t":388,"v":-65.5},{"k":10,"t":396,"v":-65},{"k":10,"t":404,"v":-64.5},{"k":10,"t":412,"v":-65},{"k":10,"t":420,"v":-64.5},{"k":10,"t":428,"v":-65},{"k":10,"t":436,"v":-64.5},{"k":10,"t":444,"v":-65},{"k":10,"t":452,"v":-64.5},{"k":10,"t":458,"v":-63.5},{"k":10,"t":463,"v":-61.5},{"k":10,"t":466.5,"v":-58.5},{"k":10,"t":468.5,"v":-55},{"k":10,"t":470,"v":-10.4},
{"k":10,"t":471.5,"v":-88.5},{"k":10,"t":475,"v":-89},{"k":10,"t":480,"v":-88},{"k":10,"t":485,"v":-89},{"k":10,"t":491,"v":-87.5},{"k":10,"t":499,"v":-86},{"k":10,"t":507,"v":-84.5},{"k":10,"t":515,"v":-82.5},{"k":10,"t":523,"v":-81},{"k":10,"t":531,"v":-79},{"k":10,"t":539,"v":-77.5},{"k":10,"t":547,"v":-75.5},{"k":10,"t":555,"v":-74},{"k":10,"t":563,"v":-72.5},{"k":10,"t":571,"v":-71},{"k":10,"t":579,"v":-69.5},{"k":10,"t":587,"v":-68},{"k":10,"t":594,"v":-66.5},{"k":10,"t":600,"v":-64.5},{"k":10,"t":605,"v":-62},{"k":10,"t":609,"v":-59},{"k":10,"t":612,"v":-56},{"k":10,"t":614,"v":-53},{"k":10,"t":615,"v":-10.4},
{"k":10,"t":616.5,"v":-88.5},{"k":10,"t":620,"v":-89},{"k":10,"t":625,"v":-88},{"k":10,"t":630,"v":-89},{"k":10,"t":636,"v":-87},{"k":10,"t":643,"v":-85},{"k":10,"t":650,"v":-83},{"k":10,"t":657,"v":-81},{"k":10,"t":664,"v":-79},{"k":10,"t":671,"v":-77},{"k":10,"t":678,"v":-75},{"k":10,"t":685,"v":-73},{"k":10,"t":692,"v":-71},{"k":10,"t":700,"v":-69}
]
},
"resolve": {"axis": {"x": "independent", "y": "independent"}},
"layer": [
{
"data": {"values": [{"box": "figure"}]},
"mark": {"type": "rect", "color": "#FFFFFF"},
"encoding": {
"x": {"datum": -117.6, "type": "quantitative", "scale": {"domain": [0, 700], "nice": false, "zero": false}, "axis": null},
"x2": {"datum": 784.2},
"y": {"datum": 31, "type": "quantitative", "scale": {"domain": [-100, 20], "nice": false, "zero": false}, "axis": null},
"y2": {"datum": -115.9}
}
},
{
"data": {"name": "traces"},
"mark": {"type": "line", "color": "#1212EA", "strokeWidth": 3, "strokeJoin": "bevel"},
"encoding": {
"x": {"field": "t", "type": "quantitative", "scale": {"domain": [0, 700], "nice": false, "zero": false},
"axis": {"orient": "bottom", "values": [0, 100, 200, 300, 400, 500, 600, 700], "title": null, "grid": false, "tickSize": -5, "labelPadding": 9, "labelFontSize": 12, "labelFont": "Liberation Sans", "labelColor": "#000000", "domainColor": "#555555", "tickColor": "#555555", "zindex": 1, "labelFlush": false}},
"y": {"field": "v", "type": "quantitative", "scale": {"domain": [-100, 20], "nice": false, "zero": false},
"axis": {"orient": "left", "values": [-100, -80, -60, -40, -20, 0, 20], "title": null, "grid": false, "tickSize": -5, "labelPadding": 9, "labelFontSize": 12, "labelFont": "Liberation Sans", "labelColor": "#000000", "domainColor": "#555555", "tickColor": "#555555", "zindex": 1, "labelFlush": false, "labelExpr": "replace(datum.label, '−', '-')"}},
"detail": {"field": "k", "type": "nominal"}
}
},
{
"data": {"values": [{"label": "μ=0.033 σ=0.6"}]},
"mark": {"type": "text", "align": "left", "baseline": "alphabetic", "fontSize": 12, "font": "Liberation Sans", "color": "#000000"},
"encoding": {
"x": {"datum": 210, "type": "quantitative", "scale": {"domain": [0, 700], "nice": false, "zero": false},
"axis": {"orient": "top", "values": [0, 100, 200, 300, 400, 500, 600, 700], "labels": false, "title": null, "grid": false, "tickSize": -5, "domainColor": "#555555", "tickColor": "#555555", "zindex": 1}},
"y": {"datum": 1.7, "type": "quantitative", "scale": {"domain": [-100, 20], "nice": false, "zero": false},
"axis": {"orient": "right", "values": [-100, -80, -60, -40, -20, 0, 20], "labels": false, "title": null, "grid": false, "tickSize": -5, "domainColor": "#555555", "tickColor": "#555555", "zindex": 1}},
"text": {"field": "label"}
}
},
{
"data": {"values": [{"label": "44"}]},
"mark": {"type": "text", "align": "center", "baseline": "alphabetic", "fontSize": 18, "font": "Liberation Sans", "color": "#00005E"},
"encoding": {
"x": {"datum": 919, "type": "quantitative", "scale": {"domain": [0, 700], "nice": false, "zero": false}, "axis": null},
"y": {"datum": -126.7, "type": "quantitative", "scale": {"domain": [-100, 20], "nice": false, "zero": false}, "axis": null},
"text": {"field": "label"}
}
}
]
}
